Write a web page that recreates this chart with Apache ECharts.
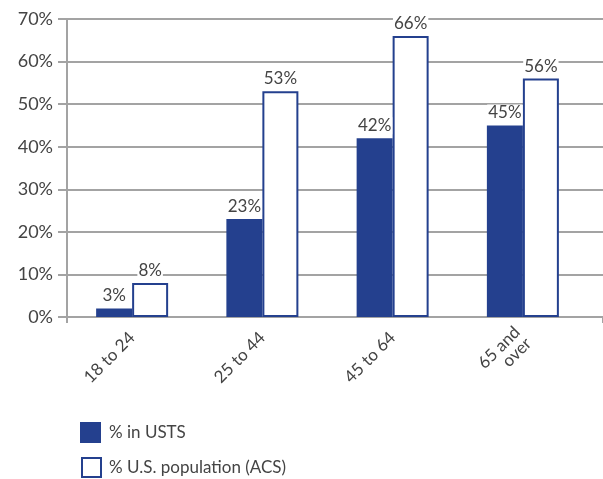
<!DOCTYPE html>
<html><head><meta charset="utf-8">
<script src="https://cdn.jsdelivr.net/npm/echarts@6/dist/echarts.min.js"></script>
<style>html,body{margin:0;padding:0;background:#fff}#c{width:603px;height:479px}</style>
</head><body><div id="c"></div>
<script>
const categories = ['18 to 24', '25 to 44', '45 to 64', '65 and\nover'];
const ustsValues = [2, 23, 42, 45];
const ustsLabels = ['3%', '23%', '42%', '45%'];
const acsValues = [8, 53, 66, 56];
const acsLabels = ['8%', '53%', '66%', '56%'];
const yTicks = [0, 10, 20, 30, 40, 50, 60, 70];
const seriesNames = ['% in USTS', '% U.S. population (ACS)'];

const FONT = 'Lato';
const BLUE = '#24408e';
const GRAY = '#a3a3a3';
const TXT = '#444';

const chart = echarts.init(document.getElementById('c'));
const lbl = (arr) => ({
  show: true, position: 'top', distance: 4,
  formatter: p => arr[p.dataIndex],
  fontFamily: FONT, fontSize: 17, color: TXT,
  backgroundColor: '#fff', padding: [0, 1, 0, 1]
});
const legendCommon = {
  orient: 'vertical', left: 80, padding: 0, itemWidth: 21, itemHeight: 21,
  textStyle: { fontFamily: FONT, fontSize: 17, color: TXT, padding: [0, 0, 0, 3] }
};
chart.setOption({
  animation: false,
  textStyle: { fontFamily: FONT },
  grid: [
    { left: 67, right: -4, top: 19, bottom: 162 },
    { left: 67, right: 15, top: 19, bottom: 162 }
  ],
  xAxis: [
    { gridIndex: 0, type: 'category', data: categories,
      axisLine: { show: false }, axisLabel: { show: false },
      axisTick: { show: true, length: 6, interval: (i) => i === 0, lineStyle: { color: GRAY, width: 2 } } },
    { gridIndex: 1, type: 'category', data: categories,
      axisLine: { show: false }, axisTick: { show: false },
      axisLabel: { rotate: 45, fontFamily: FONT, fontSize: 17, color: TXT, lineHeight: 16, margin: 18, interval: 0 } }
  ],
  yAxis: [
    { gridIndex: 0, type: 'value', min: yTicks[0], max: yTicks[yTicks.length - 1], interval: 10,
      axisLine: { show: true, lineStyle: { color: GRAY, width: 2 } },
      axisTick: { show: true, length: 9, lineStyle: { color: GRAY, width: 2 } },
      splitLine: { show: true, lineStyle: { color: GRAY, width: 2 } },
      axisLabel: { formatter: v => v + '%', fontFamily: FONT, fontSize: 18, color: TXT, margin: 14 } },
    { gridIndex: 1, type: 'value', min: 0, max: 70, interval: 10, show: false, splitLine: { show: false } }
  ],
  legend: [
    Object.assign({}, legendCommon, { top: 422,
      data: [{ name: seriesNames[0], icon: 'rect', itemStyle: { color: BLUE, borderWidth: 0 } }] }),
    Object.assign({}, legendCommon, { top: 457, itemWidth: 19, itemHeight: 19, left: 81,
      data: [{ name: seriesNames[1], icon: 'rect', itemStyle: { color: '#fff', borderColor: BLUE, borderWidth: 2 } }] })
  ],
  series: [
    { name: seriesNames[0], type: 'bar', xAxisIndex: 1, yAxisIndex: 1, data: ustsValues,
      barWidth: 36, barGap: '0%', itemStyle: { color: BLUE }, label: lbl(ustsLabels) },
    { name: seriesNames[1], type: 'bar', xAxisIndex: 1, yAxisIndex: 1, data: acsValues,
      barWidth: 36, barGap: '0%', itemStyle: { color: '#fff', borderColor: BLUE, borderWidth: 2 }, label: lbl(acsLabels) }
  ]
});
</script></body></html>
